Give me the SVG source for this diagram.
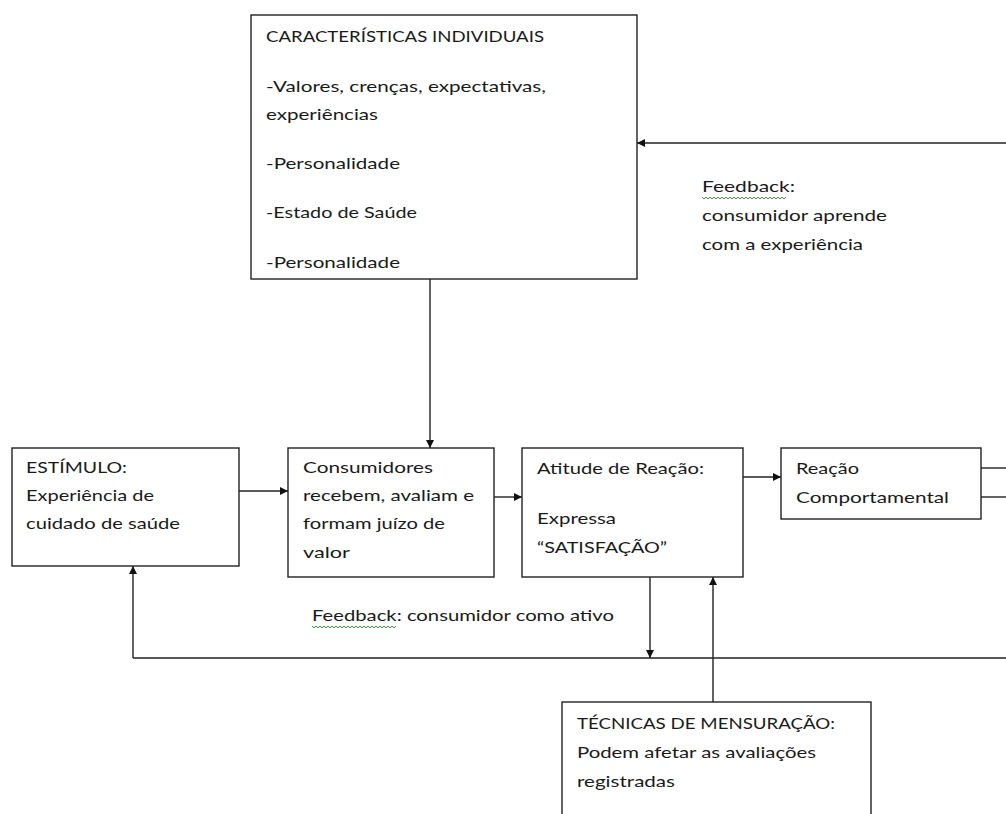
<svg xmlns="http://www.w3.org/2000/svg" width="1006" height="814" viewBox="0 0 1006 814">
<style>
.box{fill:#fff;stroke:#222;stroke-width:1.4}
.t{font-family:Lato,"Open Sans","Noto Sans",sans-serif;font-size:16px;fill:#1a1a1a}
.ln{stroke:#222;stroke-width:1.4;fill:none}
.sq{stroke:#3aa53a;stroke-width:1;fill:none}
</style>
<defs>
<marker id="ah" viewBox="0 0 10 10" refX="10" refY="5" markerWidth="8" markerHeight="8" markerUnits="userSpaceOnUse" orient="auto">
<path d="M0,0 L10,5 L0,10 z" fill="#111"/>
</marker>
</defs>
<rect width="1006" height="814" fill="#fff"/>

<g id="connectors">
<line class="ln" x1="1006" y1="143" x2="637" y2="143" marker-end="url(#ah)"/>
<line class="ln" x1="430" y1="279" x2="430" y2="448" marker-end="url(#ah)"/>
<line class="ln" x1="239" y1="491" x2="288" y2="491" marker-end="url(#ah)"/>
<line class="ln" x1="494" y1="497" x2="522" y2="497" marker-end="url(#ah)"/>
<line class="ln" x1="743" y1="477" x2="781" y2="477" marker-end="url(#ah)"/>
<line class="ln" x1="981" y1="468" x2="1006" y2="468"/>
<line class="ln" x1="981" y1="497" x2="1006" y2="497"/>
<line class="ln" x1="133" y1="658" x2="1006" y2="658"/>
<line class="ln" x1="133" y1="658" x2="133" y2="566" marker-end="url(#ah)"/>
<line class="ln" x1="650" y1="577" x2="650" y2="658" marker-end="url(#ah)"/>
<line class="ln" x1="713" y1="702" x2="713" y2="577" marker-end="url(#ah)"/>
</g>

<g id="label-feedback-top">
<text class="t" x="702" y="192" textLength="93" lengthAdjust="spacingAndGlyphs">Feedback:</text>
<path class="sq" d="M702,197 l2,2 l2,-2 l2,2 l2,-2 l2,2 l2,-2 l2,2 l2,-2 l2,2 l2,-2 l2,2 l2,-2 l2,2 l2,-2 l2,2 l2,-2 l2,2 l2,-2 l2,2 l2,-2 l2,2 l2,-2 l2,2 l2,-2 l2,2 l2,-2 l2,2 l2,-2 l2,2 l2,-2 l2,2 l2,-2 l2,2 l2,-2 l2,2 l2,-2 l2,2 l2,-2 l2,2 l2,-2 l2,2 l2,-2"/>
<text class="t" x="702" y="221" textLength="185" lengthAdjust="spacingAndGlyphs">consumidor aprende</text>
<text class="t" x="702" y="250" textLength="161" lengthAdjust="spacingAndGlyphs">com a experiência</text>
</g>

<g id="label-feedback-bottom">
<text class="t" x="312" y="621" textLength="302" lengthAdjust="spacingAndGlyphs">Feedback: consumidor como ativo</text>
<path class="sq" d="M312,626 l2,2 l2,-2 l2,2 l2,-2 l2,2 l2,-2 l2,2 l2,-2 l2,2 l2,-2 l2,2 l2,-2 l2,2 l2,-2 l2,2 l2,-2 l2,2 l2,-2 l2,2 l2,-2 l2,2 l2,-2 l2,2 l2,-2 l2,2 l2,-2 l2,2 l2,-2 l2,2 l2,-2 l2,2 l2,-2 l2,2 l2,-2 l2,2 l2,-2 l2,2 l2,-2 l2,2 l2,-2 l2,2 l2,-2"/>
</g>

<g id="node-caracteristicas">
<rect class="box" x="251" y="15" width="386" height="264"/>
<text class="t" x="266" y="42" textLength="278" lengthAdjust="spacingAndGlyphs">CARACTERÍSTICAS INDIVIDUAIS</text>
<text class="t" x="266" y="92" textLength="280" lengthAdjust="spacingAndGlyphs">-Valores, crenças, expectativas,</text>
<text class="t" x="266" y="120" textLength="112" lengthAdjust="spacingAndGlyphs">experiências</text>
<text class="t" x="266" y="169" textLength="134" lengthAdjust="spacingAndGlyphs">-Personalidade</text>
<text class="t" x="266" y="218" textLength="151" lengthAdjust="spacingAndGlyphs">-Estado de Saúde</text>
<text class="t" x="266" y="268" textLength="134" lengthAdjust="spacingAndGlyphs">-Personalidade</text>
</g>

<g id="node-estimulo">
<rect class="box" x="12" y="448" width="227" height="118"/>
<text class="t" x="26" y="473" textLength="101" lengthAdjust="spacingAndGlyphs">ESTÍMULO:</text>
<text class="t" x="26" y="501" textLength="128" lengthAdjust="spacingAndGlyphs">Experiência de</text>
<text class="t" x="26" y="529" textLength="154" lengthAdjust="spacingAndGlyphs">cuidado de saúde</text>
</g>

<g id="node-consumidores">
<rect class="box" x="288" y="448" width="206" height="129"/>
<text class="t" x="303" y="473" textLength="130" lengthAdjust="spacingAndGlyphs">Consumidores</text>
<text class="t" x="303" y="501" textLength="171" lengthAdjust="spacingAndGlyphs">recebem, avaliam e</text>
<text class="t" x="303" y="529" textLength="142" lengthAdjust="spacingAndGlyphs">formam juízo de</text>
<text class="t" x="303" y="558" textLength="47" lengthAdjust="spacingAndGlyphs">valor</text>
</g>

<g id="node-atitude">
<rect class="box" x="522" y="448" width="221" height="129"/>
<text class="t" x="537" y="474" textLength="167" lengthAdjust="spacingAndGlyphs">Atitude de Reação:</text>
<text class="t" x="537" y="524" textLength="79" lengthAdjust="spacingAndGlyphs">Expressa</text>
<text class="t" x="537" y="553" textLength="130" lengthAdjust="spacingAndGlyphs">“SATISFAÇÃO”</text>
</g>

<g id="node-reacao">
<rect class="box" x="781" y="448" width="200" height="71"/>
<text class="t" x="796" y="474" textLength="63" lengthAdjust="spacingAndGlyphs">Reação</text>
<text class="t" x="796" y="503" textLength="153" lengthAdjust="spacingAndGlyphs">Comportamental</text>
</g>

<g id="node-tecnicas">
<rect class="box" x="562" y="702" width="309" height="130"/>
<text class="t" x="577" y="729" textLength="258" lengthAdjust="spacingAndGlyphs">TÉCNICAS DE MENSURAÇÃO:</text>
<text class="t" x="577" y="758" textLength="239" lengthAdjust="spacingAndGlyphs">Podem afetar as avaliações</text>
<text class="t" x="577" y="787" textLength="98" lengthAdjust="spacingAndGlyphs">registradas</text>
</g>
</svg>
